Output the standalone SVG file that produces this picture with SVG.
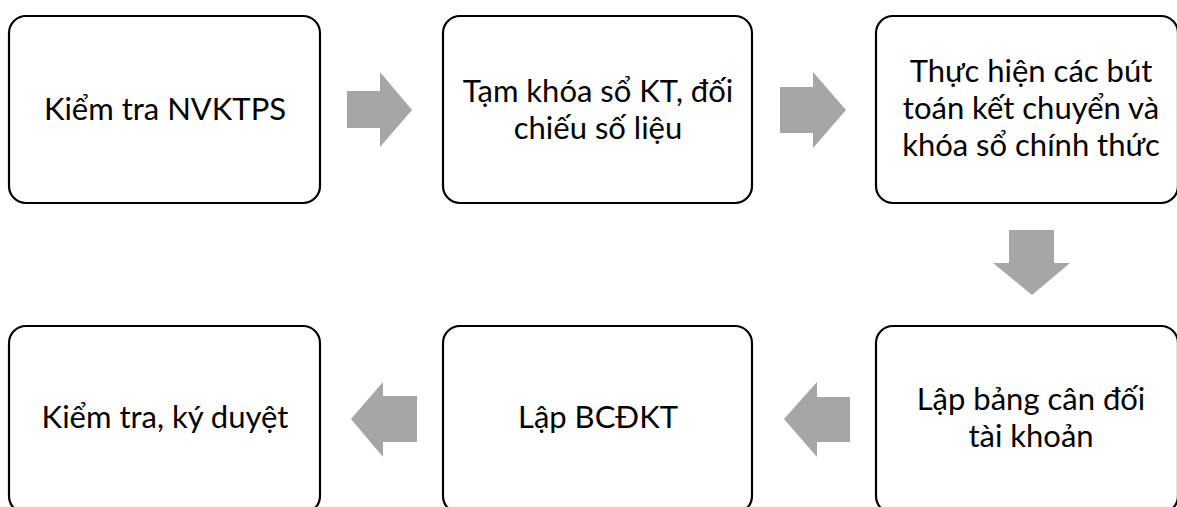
<svg xmlns="http://www.w3.org/2000/svg" width="1177" height="507" viewBox="0 0 1177 507">
<style>
.box{fill:#fff;stroke:#000;stroke-width:2.2}
.lbl{font-family:Lato,"Noto Sans",sans-serif;font-size:31px;font-weight:400;fill:#000;text-anchor:middle}
.arr{fill:#a6a6a6}
</style>
<rect width="1177" height="507" fill="#fff"/>
<g id="n1"><rect class="box" x="9" y="16" width="311" height="187" rx="17"/><text class="lbl" x="165" y="120">Kiểm tra NVKTPS</text></g>
<g id="n2"><rect class="box" x="443" y="16" width="309" height="187" rx="17"/><text class="lbl" x="598" y="102">Tạm khóa sổ KT, đối</text><text class="lbl" x="598" y="139">chiếu số liệu</text></g>
<g id="n3"><rect class="box" x="876" y="16" width="302" height="187" rx="17"/><text class="lbl" x="1031" y="82">Thực hiện các bút</text><text class="lbl" x="1031" y="119">toán kết chuyển và</text><text class="lbl" x="1031" y="156">khóa sổ chính thức</text></g>
<g id="n4"><rect class="box" x="876" y="326" width="302" height="187" rx="17"/><text class="lbl" x="1031" y="410">Lập bảng cân đối</text><text class="lbl" x="1031" y="447">tài khoản</text></g>
<g id="n5"><rect class="box" x="443" y="326" width="309" height="187" rx="17"/><text class="lbl" x="598" y="428">Lập BCĐKT</text></g>
<g id="n6"><rect class="box" x="9" y="326" width="311" height="187" rx="17"/><text class="lbl" x="165" y="428">Kiểm tra, ký duyệt</text></g>
<g id="connectors">
<polygon class="arr" points="347,91 380,91 380,72 412,110 380,147 380,128 347,128"/>
<polygon class="arr" points="780,87 813,87 813,72 846,110 813,148 813,133 780,133"/>
<polygon class="arr" points="1009,230 1054,230 1054,263 1070,263 1032,295 993,263 1009,263"/>
<polygon class="arr" points="850,397 817,397 817,382 784,419 817,457 817,442 850,442"/>
<polygon class="arr" points="417,396 383,396 383,382 351,419 383,457 383,442 417,442"/>
</g>
</svg>
